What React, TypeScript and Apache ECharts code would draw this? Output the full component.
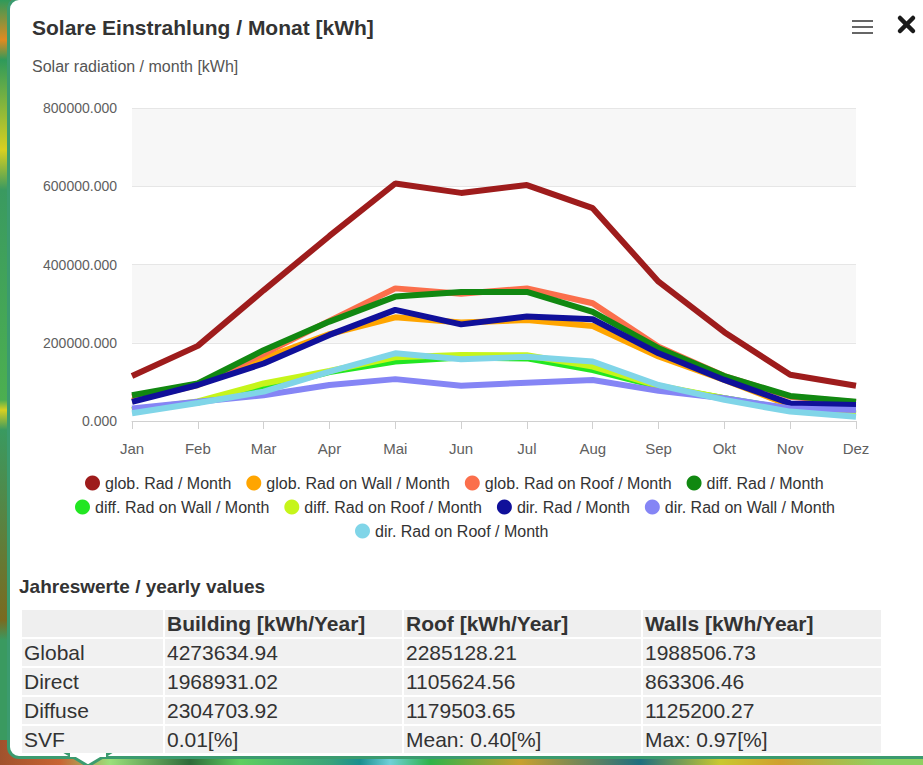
import React, { useEffect, useRef } from "react";
import * as echarts from "echarts";

const FONT = "'Liberation Sans', Arial, sans-serif";

const months = ["Jan", "Feb", "Mar", "Apr", "Mai", "Jun", "Jul", "Aug", "Sep", "Okt", "Nov", "Dez"];

const seriesNames = [
  "glob. Rad / Month",
  "glob. Rad on Wall / Month",
  "glob. Rad on Roof / Month",
  "diff. Rad / Month",
  "diff. Rad on Wall / Month",
  "diff. Rad on Roof / Month",
  "dir. Rad / Month",
  "dir. Rad on Wall / Month",
  "dir. Rad on Roof / Month",
];

const seriesColors = [
  "#9e1c1c",
  "#ffa500",
  "#fb6f4c",
  "#118811",
  "#22e622",
  "#c6f51a",
  "#10109a",
  "#8585f5",
  "#80d5e8",
];

const globRad = [115000, 192000, 334000, 473000, 607000, 583000, 603000, 544000, 356000, 227000, 118000, 90000];
const globWall = [52000, 92000, 160000, 222000, 265000, 252000, 258000, 243000, 165000, 105000, 40000, 35000];
const globRoof = [62000, 95000, 172000, 256000, 339000, 325000, 339000, 301000, 190000, 115000, 62000, 48000];
const diffRad = [66000, 96000, 181000, 254000, 318000, 330000, 330000, 279000, 186000, 115000, 64000, 49000];
const diffWall = [28000, 47000, 83000, 125000, 152000, 162000, 160000, 130000, 88000, 58000, 30000, 20000];
const diffRoof = [28000, 50000, 96000, 128000, 163000, 169000, 168000, 139000, 90000, 58000, 28000, 18000];
const dirRad = [49000, 92000, 147000, 220000, 284000, 247000, 267000, 260000, 173000, 105000, 45000, 41000];
const dirWall = [32000, 49000, 66000, 92000, 107000, 90000, 98000, 105000, 77000, 58000, 32000, 28000];
const dirRoof = [20000, 46000, 75000, 126000, 173000, 158000, 164000, 152000, 92000, 54000, 24000, 11000];

const seriesData = [globRad, globWall, globRoof, diffRad, diffWall, diffRoof, dirRad, dirWall, dirRoof];

const legendRows = [
  seriesNames.slice(0, 4),
  seriesNames.slice(4, 8),
  seriesNames.slice(8, 9),
];
const legendLefts = [80, 70, 350];
const legendTops = [470, 494, 518];

const tableTitle = "Jahreswerte / yearly values";
const tableHeaders = ["", "Building [kWh/Year]", "Roof [kWh/Year]", "Walls [kWh/Year]"];
const rowLabels = ["Global", "Direct", "Diffuse", "SVF"];
const buildingVals = ["4273634.94", "1968931.02", "2304703.92", "0.01[%]"];
const roofVals = ["2285128.21", "1105624.56", "1179503.65", "Mean: 0.40[%]"];
const wallVals = ["1988506.73", "863306.46", "1125200.27", "Max: 0.97[%]"];

function Chart() {
  const ref = useRef<HTMLDivElement>(null);
  useEffect(() => {
    if (!ref.current) return;
    const chart = echarts.init(ref.current, undefined, { renderer: "svg" });
    const option: any = {
      animation: false,
      backgroundColor: "transparent",
      textStyle: { fontFamily: FONT },
      title: [
        {
          text: "Solare Einstrahlung / Monat [kWh]",
          left: 27,
          top: 12,
          textStyle: { fontSize: 21, fontWeight: "bold", color: "#333333", fontFamily: FONT },
        },
        {
          text: "Solar radiation / month [kWh]",
          left: 27,
          top: 53,
          textStyle: { fontSize: 16, fontWeight: "normal", color: "#555555", fontFamily: FONT },
        },
      ],
      legend: legendRows.map((row, i) => ({
        data: row,
        left: legendLefts[i],
        top: legendTops[i],
        orient: "horizontal",
        icon: "circle",
        itemWidth: 15,
        itemHeight: 15,
        itemGap: 15,
        textStyle: { fontSize: 16, color: "#333333", fontFamily: FONT },
      })),
      grid: { left: 132, top: 108, width: 724, height: 313 },
      xAxis: {
        type: "category",
        data: months,
        boundaryGap: false,
        axisLine: { lineStyle: { color: "#d0d0d0", width: 1 } },
        axisTick: { show: true, length: 8, lineStyle: { color: "#d0d0d0" } },
        axisLabel: { color: "#606060", fontSize: 15, margin: 20, fontFamily: FONT },
        splitLine: { show: false },
      },
      yAxis: {
        type: "value",
        min: 0,
        max: 800000,
        interval: 200000,
        axisLine: { show: false },
        axisTick: { show: false },
        axisLabel: {
          color: "#606060",
          fontSize: 14,
          margin: 15,
          fontFamily: FONT,
          formatter: (v: number) => v.toFixed(3),
        },
        splitLine: { lineStyle: { color: "#e6e6e6" } },
        splitArea: { show: true, areaStyle: { color: ["#ffffff", "#f7f7f7"] } },
      },
      series: seriesNames.map((name, i) => ({
        type: "line",
        name,
        data: seriesData[i],
        showSymbol: false,
        symbol: "none",
        smooth: false,
        color: seriesColors[i],
        lineStyle: { width: 6, color: seriesColors[i] },
        itemStyle: { color: seriesColors[i] },
        emphasis: { disabled: true },
        z: 2 + i,
      })),
      graphic: [
        { type: "rect", shape: { x: 852, y: 20, width: 21, height: 2 }, style: { fill: "#666666" } },
        { type: "rect", shape: { x: 852, y: 26, width: 21, height: 2 }, style: { fill: "#666666" } },
        { type: "rect", shape: { x: 852, y: 32, width: 21, height: 2 }, style: { fill: "#666666" } },
        {
          type: "line",
          shape: { x1: 900, y1: 18, x2: 913, y2: 31 },
          style: { stroke: "#1a1a1a", lineWidth: 4.5, lineCap: "round" },
        },
        {
          type: "line",
          shape: { x1: 913, y1: 18, x2: 900, y2: 31 },
          style: { stroke: "#1a1a1a", lineWidth: 4.5, lineCap: "round" },
        },
      ],
    };
    chart.setOption(option);
    return () => chart.dispose();
  }, []);
  return (
    <div
      ref={ref}
      style={{ position: "absolute", left: 0, top: 0, width: 923, height: 560 }}
    />
  );
}

export default function App() {
  const cellBase: React.CSSProperties = {
    background: "#f1f1f1",
    height: 27,
    padding: "0 0 0 2px",
    fontSize: 21,
    color: "#333333",
    whiteSpace: "nowrap",
    overflow: "hidden",
    verticalAlign: "middle",
    lineHeight: "27px",
  };
  const colWidths = [141, 237, 237, 238];
  return (
    <div
      style={{
        position: "fixed",
        left: 0,
        top: 0,
        width: 923,
        height: 765,
        overflow: "hidden",
        fontFamily: FONT,
        background:
          "linear-gradient(90deg, #a0522d 0px, #c86432 60px, #9be07a 110px, #2f6b3a 190px, #5fcf5f 240px, #3aa37a 330px, #1a8f8f 360px, #6fd0d8 390px, #2fb34a 430px, #c8a030 520px, #1f6f7f 640px, #c9c830 720px, #d0a030 780px, #8fd060 880px)",
      }}
    >
      <div
        style={{
          position: "absolute",
          left: 0,
          top: 0,
          width: 10,
          height: 740,
          background: "linear-gradient(180deg, #2f9a5a 0px, #e08a20 40px, #2f9a5a 60px, #d8d020 150px, #3a9a60 190px, #4caf50 400px, #d8d020 410px, #3a9a60 430px, #7a6a20 620px, #3a9a60 640px)",
        }}
      />
      <div
        style={{
          position: "absolute",
          left: 7,
          top: -3,
          width: 960,
          height: 762,
          boxSizing: "border-box",
          border: "3px solid #3b9b6f",
          borderRadius: 12,
          background: "#ffffff",
        }}
      />
      <svg
        style={{ position: "absolute", left: 60, top: 752, width: 60, height: 13 }}
        width={60}
        height={13}
      >
        <polygon points="8,2 48,2 28,14" fill="#ffffff" stroke="#3b9b6f" strokeWidth={3} />
        <rect x={10} y={0} width={36} height={5} fill="#ffffff" />
      </svg>
      <Chart />
      <div
        style={{
          position: "absolute",
          left: 19,
          top: 576,
          fontSize: 19,
          fontWeight: "bold",
          color: "#333333",
          lineHeight: "22px",
          whiteSpace: "nowrap",
        }}
      >
        {tableTitle}
      </div>
      <table
        style={{
          position: "absolute",
          left: 20,
          top: 608,
          width: 863,
          tableLayout: "fixed",
          borderCollapse: "separate",
          borderSpacing: 2,
          fontFamily: FONT,
        }}
      >
        <colgroup>
          {colWidths.map((w, i) => (
            <col key={i} style={{ width: w }} />
          ))}
        </colgroup>
        <thead>
          <tr>
            {tableHeaders.map((h, i) => (
              <th key={i} style={{ ...cellBase, fontWeight: "bold", textAlign: "left", background: "#efefef" }}>
                {h}
              </th>
            ))}
          </tr>
        </thead>
        <tbody>
          {rowLabels.map((lab, r) => (
            <tr key={r}>
              <td style={cellBase}>{lab}</td>
              <td style={cellBase}>{buildingVals[r]}</td>
              <td style={cellBase}>{roofVals[r]}</td>
              <td style={cellBase}>{wallVals[r]}</td>
            </tr>
          ))}
        </tbody>
      </table>
    </div>
  );
}
